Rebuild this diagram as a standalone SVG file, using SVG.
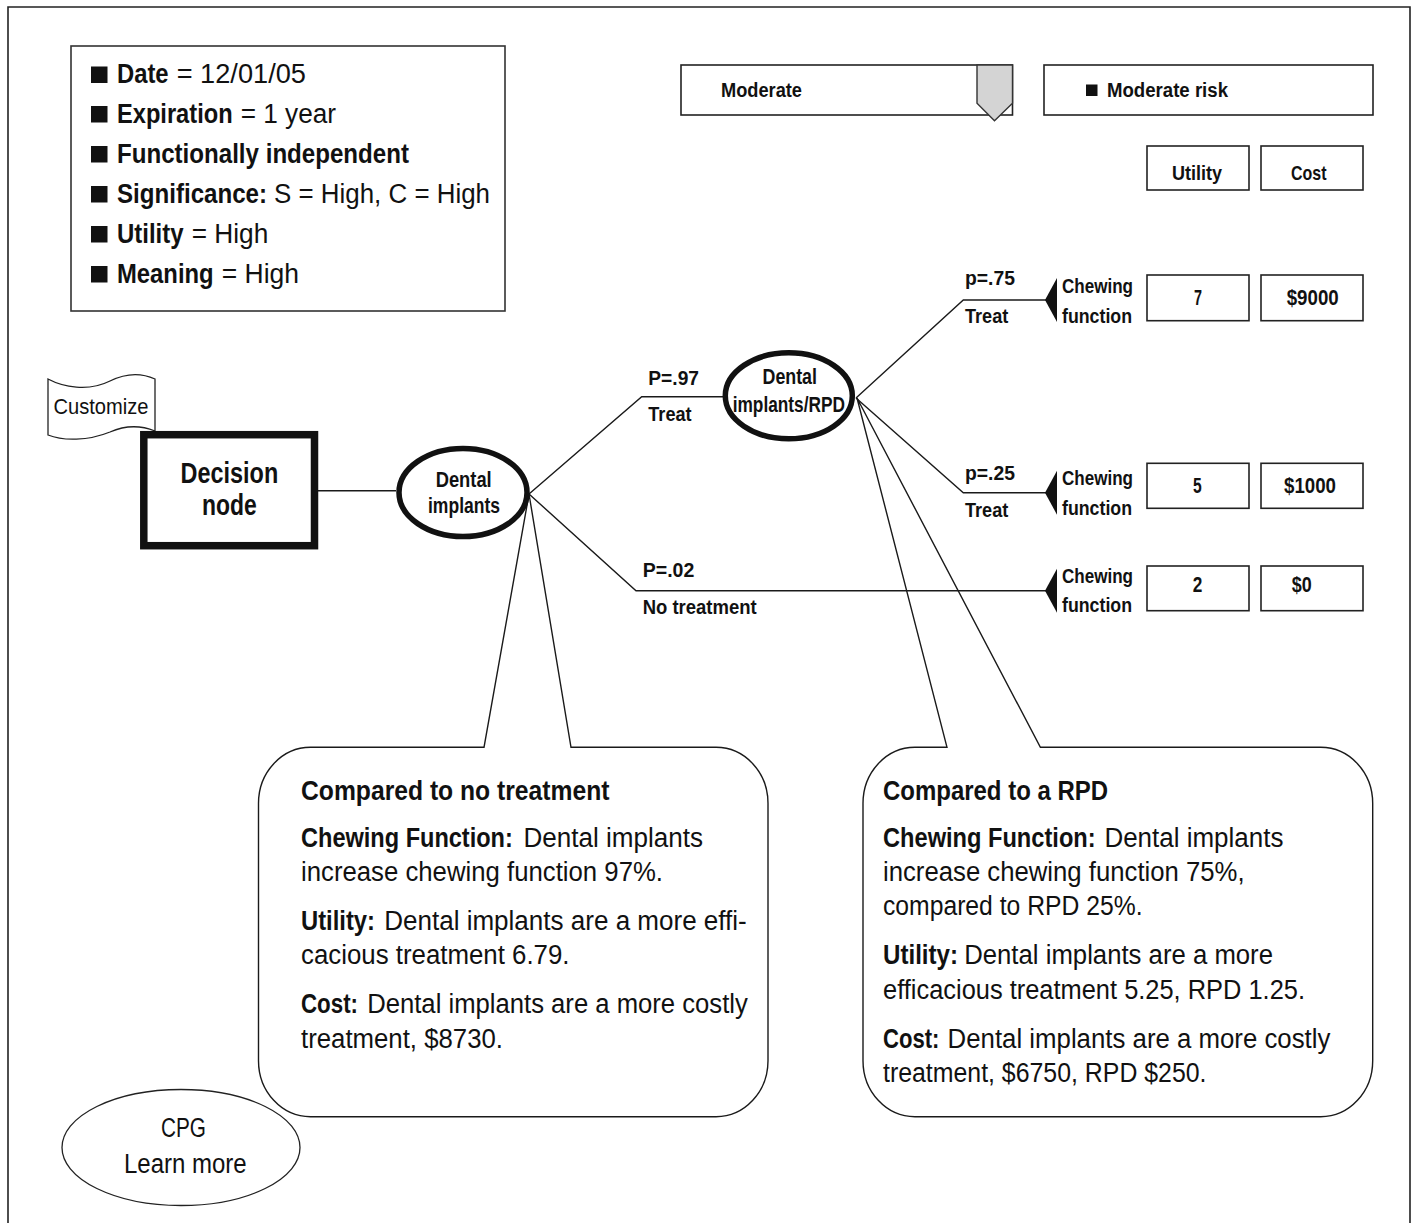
<svg xmlns="http://www.w3.org/2000/svg" width="1412" height="1223" viewBox="0 0 1412 1223">
<style>
.t{font-family:"Liberation Sans Narrow","Liberation Sans",Arial,sans-serif;fill:#111}
.b{font-weight:bold}
.ln{fill:none;stroke:#1a1a1a;stroke-width:1.4}
.box{fill:#fff;stroke:#222;stroke-width:1.6}
.ell{fill:#fff;stroke:#111;stroke-width:5.5}
.tri{fill:#111;stroke:none}
</style>
<rect width="1412" height="1223" fill="#fff"/>
<path d="M8,1230 V7 H1410 V1230" fill="none" stroke="#222" stroke-width="1.6"/>

<g id="legend">
<rect x="71" y="46" width="434" height="265" fill="#fff" stroke="#333" stroke-width="1.6"/>
<g fill="#111">
<rect x="91" y="66.5" width="16.5" height="16.5"/>
<rect x="91" y="106" width="16.5" height="16.5"/>
<rect x="91" y="146" width="16.5" height="16.5"/>
<rect x="91" y="186" width="16.5" height="16.5"/>
<rect x="91" y="226" width="16.5" height="16.5"/>
<rect x="91" y="266" width="16.5" height="16.5"/>
</g>
<g class="t" font-size="27">
<text class="b" x="117" y="83" textLength="51.6" lengthAdjust="spacingAndGlyphs">Date</text>
<text x="176.7" y="83" textLength="129.3" lengthAdjust="spacingAndGlyphs">= 12/01/05</text>
<text class="b" x="117" y="122.5" textLength="115.6" lengthAdjust="spacingAndGlyphs">Expiration</text>
<text x="240.7" y="122.5" textLength="95.3" lengthAdjust="spacingAndGlyphs">= 1 year</text>
<text class="b" x="117" y="162.5" textLength="292" lengthAdjust="spacingAndGlyphs">Functionally independent</text>
<text class="b" x="117" y="202.5" textLength="150" lengthAdjust="spacingAndGlyphs">Significance:</text>
<text x="274" y="202.5" textLength="216" lengthAdjust="spacingAndGlyphs">S = High, C = High</text>
<text class="b" x="117" y="242.5" textLength="66.6" lengthAdjust="spacingAndGlyphs">Utility</text>
<text x="191.7" y="242.5" textLength="76.6" lengthAdjust="spacingAndGlyphs">= High</text>
<text class="b" x="117" y="282.5" textLength="96.6" lengthAdjust="spacingAndGlyphs">Meaning</text>
<text x="221.7" y="282.5" textLength="77.3" lengthAdjust="spacingAndGlyphs">= High</text>
</g>
</g>

<g id="risk-slider">
<rect class="box" x="681" y="65" width="331.5" height="50"/>
<polygon points="977,65 1012.5,65 1012.5,103.3 994.5,120.7 977,103.3" fill="#d4d4d4" stroke="#333" stroke-width="1.4"/>
<text class="t b" x="721" y="97" font-size="19.5" textLength="81" lengthAdjust="spacingAndGlyphs">Moderate</text>
</g>
<g id="risk-label">
<rect class="box" x="1044" y="65" width="329" height="50"/>
<rect x="1086" y="84.5" width="11.5" height="11.5" fill="#111"/>
<text class="t b" x="1107" y="97" font-size="19.5" textLength="121" lengthAdjust="spacingAndGlyphs">Moderate risk</text>
</g>
<g id="header-utility">
<rect class="box" x="1147" y="146" width="102" height="44"/>
<text class="t b" x="1172" y="180" font-size="21" textLength="50" lengthAdjust="spacingAndGlyphs">Utility</text>
</g>
<g id="header-cost">
<rect class="box" x="1261" y="146" width="102" height="44"/>
<text class="t b" x="1291" y="180" font-size="21" textLength="35.5" lengthAdjust="spacingAndGlyphs">Cost</text>
</g>

<g id="callouts">
<path class="ln" d="M484,747.3 L529,494 L571,747.3 H716 A52,56 0 0 1 768,803.3 V1060.7 A52,56 0 0 1 716,1116.7 H310.5 A52,56 0 0 1 258.5,1060.7 V803.3 A52,56 0 0 1 310.5,747.3 Z"/>
<path class="ln" d="M947,747.3 L857,398 L1040.4,747.3 H1320.7 A52,56 0 0 1 1372.7,803.3 V1060.7 A52,56 0 0 1 1320.7,1116.7 H915 A52,56 0 0 1 863,1060.7 V803.3 A52,56 0 0 1 915,747.3 Z"/>
</g>

<g id="connectors">
<path class="ln" d="M318,490.7 H396"/>
<path class="ln" d="M529,494 L641.7,396.7 H723"/>
<path class="ln" d="M529,494 L636,590.7 H1046"/>
<path class="ln" d="M856,398 L963.3,300 H1046"/>
<path class="ln" d="M856,398 L963.3,492.7 H1046"/>
<polygon class="tri" points="1045,300 1057,278 1057,322"/>
<polygon class="tri" points="1045,492.7 1057,470.7 1057,514.7"/>
<polygon class="tri" points="1045,590.7 1057,568.7 1057,612.7"/>
<g class="t b" font-size="21">
<text x="648.3" y="385" textLength="50.7" lengthAdjust="spacingAndGlyphs">P=.97</text>
<text x="648.3" y="421" textLength="43.3" lengthAdjust="spacingAndGlyphs">Treat</text>
<text x="642.7" y="577" textLength="51.6" lengthAdjust="spacingAndGlyphs">P=.02</text>
<text x="642.7" y="614" textLength="114" lengthAdjust="spacingAndGlyphs">No treatment</text>
<text x="965" y="285" textLength="50" lengthAdjust="spacingAndGlyphs">p=.75</text>
<text x="965" y="323" textLength="43.3" lengthAdjust="spacingAndGlyphs">Treat</text>
<text x="965" y="480" textLength="50" lengthAdjust="spacingAndGlyphs">p=.25</text>
<text x="965" y="516.7" textLength="43.3" lengthAdjust="spacingAndGlyphs">Treat</text>
</g>
</g>

<g id="customize">
<path d="M48,379 C63,387 88,392 110,381 C128,372 142,373 155,379 V431 C140,425 126,425 110,432 C88,441 63,441 48,435 Z" fill="#fff" stroke="#222" stroke-width="1.3"/>
<text class="t" x="53.5" y="414" font-size="22" textLength="95" lengthAdjust="spacingAndGlyphs">Customize</text>
</g>

<g id="decision-node">
<rect x="143.8" y="434.7" width="170.7" height="111" fill="#fff" stroke="#111" stroke-width="7.5"/>
<text class="t b" x="180.6" y="483.3" font-size="30" textLength="97.6" lengthAdjust="spacingAndGlyphs">Decision</text>
<text class="t b" x="202" y="515" font-size="30" textLength="54.7" lengthAdjust="spacingAndGlyphs">node</text>
</g>

<g id="dental-implants">
<ellipse class="ell" cx="463" cy="492.5" rx="64" ry="44"/>
<text class="t b" x="435.7" y="486.7" font-size="22" textLength="56" lengthAdjust="spacingAndGlyphs">Dental</text>
<text class="t b" x="428" y="513.3" font-size="22" textLength="72" lengthAdjust="spacingAndGlyphs">implants</text>
</g>

<g id="dental-implants-rpd">
<ellipse class="ell" cx="788.8" cy="395.8" rx="63.5" ry="43"/>
<text class="t b" x="762.5" y="384.3" font-size="22" textLength="54.5" lengthAdjust="spacingAndGlyphs">Dental</text>
<text class="t b" x="732.7" y="411.7" font-size="22" textLength="112.3" lengthAdjust="spacingAndGlyphs">implants/RPD</text>
</g>

<g id="outcome-1">
<text class="t b" x="1062" y="293" font-size="21" textLength="71" lengthAdjust="spacingAndGlyphs">Chewing</text>
<text class="t b" x="1062" y="323" font-size="21" textLength="70" lengthAdjust="spacingAndGlyphs">function</text>
<rect class="box" x="1147" y="275" width="102" height="45.7"/>
<rect class="box" x="1261" y="275" width="102" height="45.7"/>
<text class="t b" x="1194" y="305" font-size="22" textLength="8" lengthAdjust="spacingAndGlyphs">7</text>
<text class="t b" x="1286.7" y="305" font-size="22" textLength="52" lengthAdjust="spacingAndGlyphs">$9000</text>
</g>
<g id="outcome-2">
<text class="t b" x="1062" y="485" font-size="21" textLength="71" lengthAdjust="spacingAndGlyphs">Chewing</text>
<text class="t b" x="1062" y="515" font-size="21" textLength="70" lengthAdjust="spacingAndGlyphs">function</text>
<rect class="box" x="1147" y="463.3" width="102" height="45"/>
<rect class="box" x="1261" y="463.3" width="102" height="45"/>
<text class="t b" x="1193" y="493" font-size="22" textLength="8.7" lengthAdjust="spacingAndGlyphs">5</text>
<text class="t b" x="1284" y="493" font-size="22" textLength="52" lengthAdjust="spacingAndGlyphs">$1000</text>
</g>
<g id="outcome-3">
<text class="t b" x="1062" y="583" font-size="21" textLength="71" lengthAdjust="spacingAndGlyphs">Chewing</text>
<text class="t b" x="1062" y="611.7" font-size="21" textLength="70" lengthAdjust="spacingAndGlyphs">function</text>
<rect class="box" x="1147" y="566" width="102" height="44.7"/>
<rect class="box" x="1261" y="566" width="102" height="44.7"/>
<text class="t b" x="1192.7" y="591.7" font-size="22" textLength="9.6" lengthAdjust="spacingAndGlyphs">2</text>
<text class="t b" x="1291.7" y="591.7" font-size="22" textLength="20" lengthAdjust="spacingAndGlyphs">$0</text>
</g>

<g id="callout-no-treatment" class="t" font-size="27">
<text class="b" x="301" y="800" textLength="308.5" lengthAdjust="spacingAndGlyphs">Compared to no treatment</text>
<text class="b" transform="translate(301 846.5) scale(0.872 1)" x="0" y="0">Chewing Function:</text>
<text x="523.5" y="846.5" textLength="179.5" lengthAdjust="spacingAndGlyphs">Dental implants</text>
<text x="301" y="880.5" textLength="362" lengthAdjust="spacingAndGlyphs">increase chewing function 97%.</text>
<text class="b" x="301" y="929.5" textLength="74" lengthAdjust="spacingAndGlyphs">Utility:</text>
<text x="384.2" y="929.5" textLength="362.6" lengthAdjust="spacingAndGlyphs">Dental implants are a more effi-</text>
<text x="301" y="964" textLength="268.5" lengthAdjust="spacingAndGlyphs">cacious treatment 6.79.</text>
<text class="b" x="301" y="1013" textLength="57" lengthAdjust="spacingAndGlyphs">Cost:</text>
<text x="367.2" y="1013" textLength="380.6" lengthAdjust="spacingAndGlyphs">Dental implants are a more costly</text>
<text x="301" y="1047.5" textLength="202" lengthAdjust="spacingAndGlyphs">treatment, $8730.</text>
</g>

<g id="callout-rpd" class="t" font-size="27">
<text class="b" x="883" y="800" textLength="225" lengthAdjust="spacingAndGlyphs">Compared to a RPD</text>
<text class="b" transform="translate(883 846.5) scale(0.8757 1)" x="0" y="0">Chewing Function:</text>
<text x="1104.4" y="846.5" textLength="179" lengthAdjust="spacingAndGlyphs">Dental implants</text>
<text x="883" y="880.5" textLength="361.6" lengthAdjust="spacingAndGlyphs">increase chewing function 75%,</text>
<text x="883" y="915" textLength="259.5" lengthAdjust="spacingAndGlyphs">compared to RPD 25%.</text>
<text class="b" x="883" y="964" textLength="75" lengthAdjust="spacingAndGlyphs">Utility:</text>
<text x="964.2" y="964" textLength="308.8" lengthAdjust="spacingAndGlyphs">Dental implants are a more</text>
<text x="883" y="998.5" textLength="422" lengthAdjust="spacingAndGlyphs">efficacious treatment 5.25, RPD 1.25.</text>
<text class="b" x="883" y="1047.5" textLength="56.4" lengthAdjust="spacingAndGlyphs">Cost:</text>
<text x="947.6" y="1047.5" textLength="382.8" lengthAdjust="spacingAndGlyphs">Dental implants are a more costly</text>
<text x="883" y="1082" textLength="323.5" lengthAdjust="spacingAndGlyphs">treatment, $6750, RPD $250.</text>
</g>

<g id="cpg-learn-more">
<ellipse cx="181" cy="1147.5" rx="119" ry="58" fill="#fff" stroke="#222" stroke-width="1.3"/>
<text class="t" x="161" y="1137.3" font-size="27" textLength="45" lengthAdjust="spacingAndGlyphs">CPG</text>
<text class="t" x="124" y="1172.7" font-size="27" textLength="122.7" lengthAdjust="spacingAndGlyphs">Learn more</text>
</g>
</svg>
